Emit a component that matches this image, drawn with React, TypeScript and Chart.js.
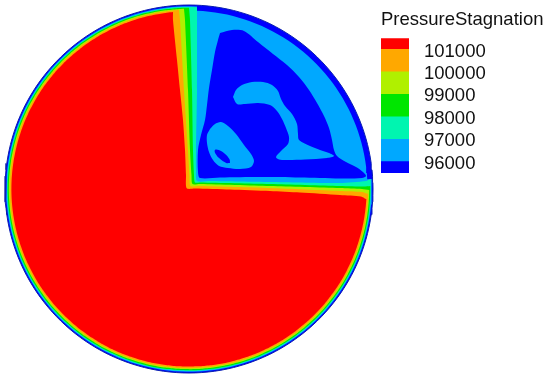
import React, { useEffect, useRef } from "react";
import { Chart, registerables } from "chart.js";

Chart.register(...registerables);

type P = [number, number];

// ---------- data (domain units, origin = disk centre, y up) ----------
const DOMAIN_RADIUS = 184;
const QUADRANT_RIM_RADIUS = 178.5;

// contour level colours, low -> high
const LEVEL_COLORS = ["#0000ff", "#00a8ff", "#00f5b0", "#00e600", "#b0f000", "#ffa800", "#ff0000"];

// rim radius of each level band in the three-quarter (high-pressure) region
const RIM_LIGHTBLUE = 182.8;
const RIM_AQUA = 182;
const RIM_GREEN = 181.3;
const RIM_YELLOW = 180.2;
const RIM_ORANGE = 179.2;
const RIM_RED = 177.6;

// iso-lines bounding the low-pressure quadrant (right end -> corner -> top end)
const aquaBoundary: P[] = [[181.6, 10], [177, 8], [151, 6], [81, 7], [21, 8], [8, 8], [7, 19], [7, 39], [8, 99], [8, 169], [8, 181.8]];
const greenBoundary: P[] = [[181.2, 3], [175, 2.5], [151, 3], [81, 5], [11, 6.5], [6, 6.5], [5, 14], [4, 39], [3, 99], [1, 169], [0, 181.3]];
const yellowBoundary: P[] = [[180.2, -1], [173, 0], [151, 1], [81, 3], [11, 5], [3.5, 5], [2.5, 14], [1, 39], [-1, 99], [-4, 169], [-5, 180.1]];
const orangeBoundary: P[] = [[179.1, -5], [173, -3], [151, -2], [81, 1], [11, 3], [1.5, 3], [0.5, 14], [-1, 39], [-5, 99], [-9, 169], [-10, 178.9]];
const redBoundary: P[] = [[176.9, -10], [172, -7.5], [151, -6], [111, -3.5], [81, -2], [41, -0.5], [6, 0.5], [-2.3, 0.7], [-3, 14], [-4, 39], [-6, 69], [-9, 99], [-12, 129], [-16, 169], [-16, 176.8]];

// 96000 region inside the quadrant
const blueCore: P[] = [[31, 156], [43, 159], [55, 158], [69, 147], [84, 135], [98, 124], [110, 112], [120, 99], [128, 86], [135, 73], [140, 61], [143, 49], [145, 39], [148, 33], [157, 27], [167, 22], [174, 17], [177, 13], [173, 11], [151, 10.5], [111, 11.5], [71, 12], [31, 11.5], [11, 11], [9, 17], [9, 39], [12, 54], [16, 69], [18, 84], [20, 101], [23, 119], [26, 137], [29, 149]];
// 97000 islands inside it
const upperIsland: P[] = [[44, 92], [47, 99], [53, 104], [63, 107], [74, 107], [83, 104], [89, 98], [92, 90], [96, 83], [103, 75], [108, 65], [109, 55], [110, 49], [121, 43], [131, 39], [140, 36], [145, 33], [138, 31], [116, 29.5], [99, 29], [90, 29.5], [87, 32], [92, 38], [99, 45], [100, 52], [97, 61], [93, 70], [88, 78], [81, 84], [69, 86], [56, 85], [48, 85]];
const lowerIsland: P[] = [[21, 60], [26, 65], [32, 67], [39, 63], [47, 55], [55, 44], [62, 35], [65, 28], [62, 22], [51, 20], [39, 21], [30, 23], [24, 29], [20, 37], [18, 46], [18, 54]];
// small 96000 pocket inside the lower island
const bluePocket: P[] = [[41, 26], [40.5, 29.7], [35.8, 35.2], [29.8, 39], [25.9, 39], [26.5, 35.3], [31.2, 29.9], [37.2, 26]];

// colour bar
const LEGEND_TITLE = "PressureStagnation";
const LEGEND_EDGES = [95500, 96000, 97000, 98000, 99000, 100000, 101000, 101500];
const LEGEND_TICKS = [96000, 97000, 98000, 99000, 100000, 101000];

// ---------- helpers ----------
const FONT = "'Liberation Sans', Arial, sans-serif";

function arcPoints(r: number, fromDeg: number, toDeg: number): P[] {
  const steps = Math.max(2, Math.ceil(Math.abs(toDeg - fromDeg) / 2));
  const pts: P[] = [];
  for (let i = 0; i <= steps; i++) {
    const a = ((fromDeg + ((toDeg - fromDeg) * i) / steps) * Math.PI) / 180;
    pts.push([r * Math.cos(a), r * Math.sin(a)]);
  }
  return pts;
}
const angleOf = (p: P) => (Math.atan2(p[1], p[0]) * 180) / Math.PI;

function levelShape(r: number, boundary: P[]): P[] {
  const top = boundary[boundary.length - 1];
  const right = boundary[0];
  const a0 = angleOf(top);
  let a1 = angleOf(right);
  while (a1 <= a0) a1 += 360;
  const arc = arcPoints(r, a0, a1);
  return [...arc, ...boundary, arc[0]];
}
const closed = (pts: P[]): P[] => [...pts, pts[0]];

export default function App() {
  const mainRef = useRef<HTMLCanvasElement | null>(null);
  const legendRef = useRef<HTMLCanvasElement | null>(null);

  useEffect(() => {
    if (!mainRef.current || !legendRef.current) return;

    const qStart = angleOf(aquaBoundary[aquaBoundary.length - 1]);
    let qEnd = angleOf(aquaBoundary[0]);
    while (qEnd <= qStart) qEnd += 360;
    const lightBlueShape: P[] = [
      ...arcPoints(RIM_LIGHTBLUE, qStart, qEnd),
      ...arcPoints(QUADRANT_RIM_RADIUS, qEnd, qStart + 360),
    ];
    lightBlueShape.push(lightBlueShape[0]);

    const layers: { pts: P[]; color: string; tension: number; border?: string }[] = [
      { pts: arcPoints(DOMAIN_RADIUS, 0, 360), color: LEVEL_COLORS[0], tension: 0, border: "#0a1fb0" },
      { pts: lightBlueShape, color: LEVEL_COLORS[1], tension: 0 },
      { pts: levelShape(RIM_AQUA, aquaBoundary), color: LEVEL_COLORS[2], tension: 0.25 },
      { pts: levelShape(RIM_GREEN, greenBoundary), color: LEVEL_COLORS[3], tension: 0.25 },
      { pts: levelShape(RIM_YELLOW, yellowBoundary), color: LEVEL_COLORS[4], tension: 0.25 },
      { pts: levelShape(RIM_ORANGE, orangeBoundary), color: LEVEL_COLORS[5], tension: 0.25 },
      { pts: levelShape(RIM_RED, redBoundary), color: LEVEL_COLORS[6], tension: 0.25 },
      { pts: closed(blueCore), color: LEVEL_COLORS[0], tension: 0.3 },
      { pts: closed(upperIsland), color: LEVEL_COLORS[1], tension: 0.3 },
      { pts: closed(lowerIsland), color: LEVEL_COLORS[1], tension: 0.3 },
      { pts: closed(bluePocket), color: LEVEL_COLORS[0], tension: 0.4 },
    ];

    const main = new Chart(mainRef.current, {
      type: "scatter",
      data: {
        datasets: layers.map((l, i) => ({
          data: l.pts.map(([x, y]) => ({ x, y })),
          showLine: true,
          fill: "shape",
          backgroundColor: l.color,
          borderColor: l.border || l.color,
          borderWidth: l.border ? 1 : 0,
          pointRadius: 0,
          pointHoverRadius: 0,
          tension: l.tension,
          order: layers.length - i,
        })),
      },
      options: {
        responsive: false,
        animation: false,
        events: [],
        layout: { padding: 0 },
        scales: {
          x: { type: "linear", min: -189, max: 361, display: false },
          y: { type: "linear", min: -186, max: 189, display: false },
        },
        plugins: { legend: { display: false }, tooltip: { enabled: false }, title: { display: false } },
      },
    } as any);

    const legend = new Chart(legendRef.current, {
      type: "bar",
      data: {
        labels: [""],
        datasets: LEVEL_COLORS.map((c, i) => ({
          data: [[LEGEND_EDGES[i], LEGEND_EDGES[i + 1]]],
          backgroundColor: c,
          borderWidth: 0,
          grouped: false,
          categoryPercentage: 1,
          barPercentage: 1,
        })),
      },
      options: {
        responsive: false,
        animation: false,
        events: [],
        layout: { padding: { left: 0, right: 0, top: 0, bottom: 0 } },
        scales: {
          x: { type: "category", display: false },
          y: {
            type: "linear",
            position: "right",
            min: LEGEND_EDGES[0],
            max: LEGEND_EDGES[LEGEND_EDGES.length - 1],
            grid: { display: false, drawTicks: false },
            border: { display: false },
            ticks: {
              padding: 15,
              labelOffset: 2,
              color: "#111",
              font: { size: 18.5, family: FONT },
              callback: (v: any) => String(v),
            },
            afterBuildTicks: (s: any) => {
              s.ticks = LEGEND_TICKS.map((v) => ({ value: v }));
            },
            afterFit: (s: any) => {
              s.width = 169 - 28;
            },
          },
        },
        plugins: {
          legend: { display: false },
          tooltip: { enabled: false },
          title: {
            display: true,
            text: LEGEND_TITLE,
            align: "start",
            color: "#111",
            font: { size: 18.5, weight: "normal", family: FONT },
            padding: { top: 9, bottom: 7 },
          },
        },
      },
    } as any);

    return () => {
      main.destroy();
      legend.destroy();
    };
  }, []);

  return (
    <div style={{ position: "fixed", left: 0, top: 0, width: 550, height: 375, background: "#fff" }}>
      <canvas ref={mainRef} width={550} height={375} style={{ position: "absolute", left: 0, top: 0 }} />
      <canvas ref={legendRef} width={169} height={199} style={{ position: "absolute", left: 381, top: 0 }} />
    </div>
  );
}
